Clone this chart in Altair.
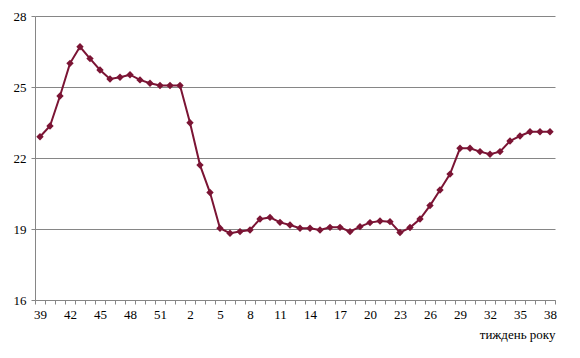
import altair as alt
import pandas as pd

weeks = [39, 40, 41, 42, 43, 44, 45, 46, 47, 48, 49, 50, 51, 52] + list(range(1, 39))
values = [22.9, 23.35, 24.62, 26.0, 26.7, 26.2, 25.72, 25.34, 25.41, 25.52, 25.3, 25.16, 25.06, 25.06,
          25.06, 23.49, 21.7, 20.54, 19.03, 18.82, 18.89, 18.96, 19.42, 19.49, 19.28, 19.17, 19.03, 19.03,
          18.96, 19.07, 19.07, 18.89, 19.1, 19.27, 19.34, 19.31, 18.85, 19.06, 19.42, 19.99, 20.65, 21.32,
          22.41, 22.41, 22.27, 22.16, 22.27, 22.72, 22.93, 23.11, 23.11, 23.11]
y_ticks = [16, 19, 22, 25, 28]
x_title = "тиждень року"

df = pd.DataFrame({"idx": list(range(len(weeks))), "week": weeks, "value": values})

tick_vals = [i - 0.5 for i in range(len(weeks) + 1)]
week_js = "[" + ",".join(str(w) for w in weeks) + "]"
label_expr = (
    f"(datum.value + 0.5) % 3 == 0 && datum.value + 0.5 < {len(weeks)} ? "
    f"'' + {week_js}[datum.value + 0.5] : ''"
)

color = "#7b1434"
font = "'Liberation Serif', 'Times New Roman', serif"

base = alt.Chart(df).encode(
    x=alt.X("idx:Q",
            scale=alt.Scale(domain=[-0.5, len(weeks) - 0.5], nice=False, zero=False),
            axis=alt.Axis(values=tick_vals, labelExpr=label_expr, labelOffset=5,
                          labelFlush=False, labelOverlap=False, grid=False,
                          tickSize=4, tickColor="#868686", domainColor="#868686",
                          labelFont=font, labelFontSize=13, labelColor="black", labelPadding=4,
                          title=x_title, titleFont=font, titleFontSize=13, titleFontWeight="normal",
                          titleColor="black", titleAnchor="end", titlePadding=7)),
    y=alt.Y("value:Q",
            scale=alt.Scale(domain=[16, 28], nice=False, zero=False),
            axis=alt.Axis(values=y_ticks, grid=True, gridColor="#868686", gridWidth=1,
                          tickSize=4, tickColor="#868686", domainColor="#868686",
                          labelFont=font, labelFontSize=13, labelColor="black", labelPadding=5,
                          title=None)),
)

line = base.mark_line(color=color, strokeWidth=2)
pts = base.mark_point(shape="diamond", filled=True, color=color, size=55, opacity=1)

chart = (line + pts).properties(
    width=520, height=284,
    autosize=alt.AutoSizeParams(type="none"),
    padding={"left": 35, "top": 16, "right": 25, "bottom": 58},
    background="white",
).configure_view(stroke=None)

chart.save("out.html", embed_options={"renderer": "svg", "actions": False})
